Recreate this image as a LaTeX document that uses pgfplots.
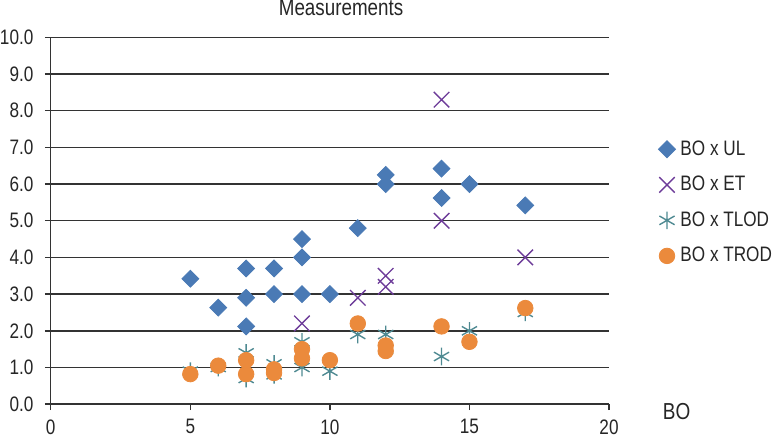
\documentclass[border=0pt]{standalone}
\usepackage{fontspec}
\setmainfont[FakeStretch=0.82]{Liberation Sans}
\usepackage{pgfplots}
\pgfplotsset{compat=1.18}
\definecolor{cUL}{HTML}{4A7AB5}
\definecolor{cET}{HTML}{6D3C99}
\definecolor{cTL}{HTML}{4F8A92}
\definecolor{cTR}{HTML}{EB8A3C}
\definecolor{gridc}{HTML}{333333}
\begin{document}
\begin{tikzpicture}
\begin{axis}[
  scale only axis,
  width=280pt, height=184pt,
  xmin=0, xmax=20, ymin=0, ymax=10,
  xtick={0,5,10,15,20},
  ytick={0,1,...,10},
  axis x line*=bottom, axis y line*=left,
  axis line style={draw=gridc, line width=0.7pt},
  ymajorgrids,
  grid style={draw=gridc, line width=0.7pt},
  tick align=outside,
  major tick length=3pt,
  tick style={draw=gridc, line width=0.7pt},
  /pgf/number format/assume math mode=true,
  ticklabel style={font=\fontsize{10.5}{12}\selectfont, text=black!85, inner sep=0pt},
  yticklabel style={xshift=-5.5pt, /pgf/number format/fixed, /pgf/number format/fixed zerofill, /pgf/number format/precision=1},
  xticklabel style={inner ysep=2pt, yshift=-2.5pt},
  title={Measurements},
  title style={at={(0.52,1)}, anchor=south, inner sep=0pt, yshift=4.5pt, font=\fontsize{11.5}{13}\selectfont, text=black!85},
  xlabel={BO},
  xlabel style={at={(axis description cs:1.121,-0.02)}, anchor=center, inner sep=0pt, font=\fontsize{11.6}{13}\selectfont, text=black!85},
  legend style={at={(1.088,0.72)}, anchor=north west, draw=none, fill=none, font=\fontsize{10.5}{12}\selectfont, text=black!85, row sep=9pt, inner sep=0pt, cells={anchor=west}, nodes={inner sep=0pt}, /tikz/every odd column/.append style={column sep=2.5pt}},
  legend cell align=left,
  clip=false,
]
\addplot[only marks, mark=square*, mark size=3pt, color=cUL, every mark/.append style={rotate=45}] coordinates {
(5,3.42) (6,2.63) (7,3.7) (7,2.9) (7,2.12) (8,3.7) (8,3.0) (9,4.5) (9,4.0) (9,3.0) (10,3.0) (11,4.8) (12,6.25) (12,6.0) (14,6.42) (14,5.62) (15,6.0) (17,5.42)
};
\addlegendentry{BO x UL}
\addplot[only marks, mark=x, mark size=5.5pt, color=cET, line width=0.7pt] coordinates {
(9,2.2) (11,2.9) (12,3.5) (12,3.2) (14,8.3) (14,5.0) (17,4.0)
};
\addlegendentry{BO x ET}
\addplot[only marks, mark=asterisk, mark size=4.4pt, color=cTL, line width=0.7pt] coordinates {
(5,0.9) (6,1.0) (7,1.4) (7,0.7) (8,1.1) (8,0.8) (9,1.7) (9,1.0) (10,0.9) (11,1.9) (12,1.9) (12,1.5) (14,1.3) (15,2.0) (17,2.5)
};
\addlegendentry{BO x TLOD}
\addplot[only marks, mark=*, mark size=3.9pt, color=cTR] coordinates {
(5,0.82) (6,1.05) (7,1.2) (7,0.82) (8,0.95) (8,0.85) (9,1.5) (9,1.25) (10,1.2) (11,2.2) (12,1.6) (12,1.45) (14,2.12) (15,1.7) (17,2.62)
};
\addlegendentry{BO x TROD}
\end{axis}
\end{tikzpicture}
\end{document}
